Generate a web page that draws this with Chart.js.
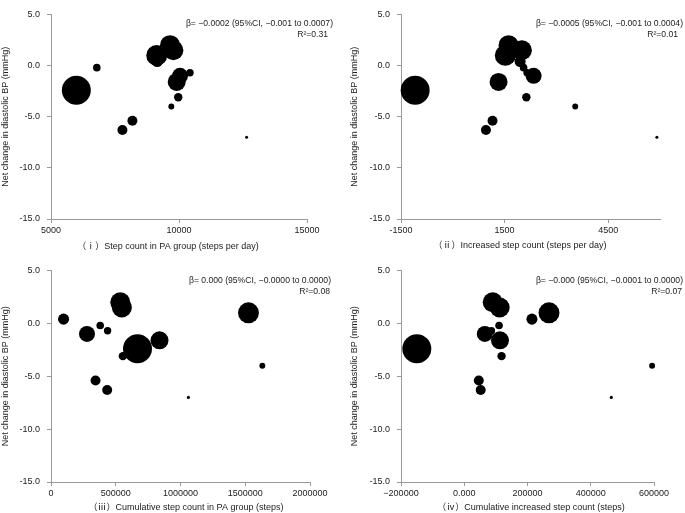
<!DOCTYPE html>
<html>
<head>
<meta charset="utf-8">
<script src="https://cdn.jsdelivr.net/npm/chart.js@4.4.0/dist/chart.umd.min.js"></script>
<style>
body { margin: 0; background: #fff; }
#wrap { position: relative; width: 685px; height: 513px; }
canvas { position: absolute; }
</style>
</head>
<body>
<div id="wrap">
  <canvas id="c1" width="342" height="256" style="left:0;top:0"></canvas>
  <canvas id="c2" width="343" height="256" style="left:342px;top:0"></canvas>
  <canvas id="c3" width="342" height="257" style="left:0;top:256px"></canvas>
  <canvas id="c4" width="343" height="257" style="left:342px;top:256px"></canvas>
</div>
<script>
// one entry per study, same order in every array
var dbpChange = [-2.4, -7.0, -4.0, -6.3, -5.4, -3.1, 1.0, 2.0, 1.5, -1.6, -1.0, 0.4, -0.2, -0.7];
// study weight (%), drawn as bubble area
var studyWeight = [26.2, 0.3, 1.1, 3.1, 3.1, 2.2, 13.7, 12.5, 12.5, 10.1, 8.0, 3.8, 1.8, 1.7];

var stepsPA = [5990, 12640, 9700, 7790, 8180, 9970, 9130, 9650, 9780, 9910, 10040, 9150, 6790, 10430];
var stepsIncrease = [-1090, 5910, 3545, 960, 1150, 2130, 1520, 1615, 2000, 1325, 2340, 1950, 2050, 2150];
var cumStepsPA = [668000, 1061000, 1632000, 434000, 344000, 555000, 1525000, 535000, 547000, 838000, 278000, 97000, 380000, 437000];
var cumStepsIncrease = [-150000, 465000, 594000, 52000, 46000, 118000, 268000, 90000, 112000, 113000, 65000, 214000, 110000, 86000];

var yTicks = [-15, -10, -5, 0, 5];
var xTicks1 = [5000, 10000, 15000];
var xTicks2 = [-1500, 1500, 4500];
var xTicks3 = [0, 500000, 1000000, 1500000, 2000000];
var xTicks4 = [-200000, 0, 200000, 400000, 600000];
var xLabels4 = ['\u2212200000', '0.000', '200000', '400000', '600000'];

var yTitle = 'Net change in diastolic BP (mmHg)';
var captions = [
    '\uFF08\u2170\uFF09Step count in PA group (steps per day)',
    '\uFF08\u2171\uFF09Increased step count (steps per day)',
    '\uFF08\u2172\uFF09Cumulative step count in PA group (steps)',
    '\uFF08\u2173\uFF09Cumulative increased step count (steps)'
];
var betaText = [
    '\u03B2= \u22120.0002 (95%CI, \u22120.001 to 0.0007)',
    '\u03B2= \u22120.0005 (95%CI, \u22120.001 to 0.0004)',
    '\u03B2= 0.000 (95%CI, \u22120.0000 to 0.0000)',
    '\u03B2= \u22120.000 (95%CI, \u22120.0001 to 0.0000)'
];
var r2Text = ['R\u00B2=0.31', 'R\u00B2=0.01', 'R\u00B2=0.08', 'R\u00B2=0.07'];

var FONT = '"Liberation Sans", Arial, "Noto Sans CJK SC", sans-serif';
var AXIS = '#9a9a9a';
var TEXT = '#222';

// annotation + caption text drawn at fixed spots of each panel
var panelText = {
    id: 'panelText',
    afterDraw: function (chart, args, o) {
        var c = chart.ctx;
        c.save();
        c.fillStyle = TEXT;
        c.textBaseline = 'middle';
        c.textAlign = 'right';
        c.font = '8.6px ' + FONT;
        c.fillText(o.beta, o.betaX, o.betaY);
        c.fillText(o.r2, o.r2X, o.r2Y);
        c.textAlign = 'center';
        c.font = '9px ' + FONT;
        c.fillText(o.caption, o.capX, o.capY);
        c.restore();
    }
};

function makePanel(id, xValues, cfg) {
    var ctx = document.getElementById(id).getContext('2d');
    var points = xValues.map(function (x, i) {
        return { x: x, y: dbpChange[i], r: Math.sqrt(studyWeight[i]) * 2.83 };
    });
    return new Chart(ctx, {
        type: 'bubble',
        plugins: [panelText],
        data: {
            datasets: [{
                data: points,
                backgroundColor: '#000',
                borderWidth: 0,
                hoverBorderWidth: 0,
                clip: false
            }]
        },
        options: {
            responsive: false,
            animation: false,
            events: [],
            layout: { padding: cfg.padding },
            plugins: {
                legend: { display: false },
                tooltip: { enabled: false },
                panelText: cfg.text
            },
            scales: {
                x: {
                    type: 'linear',
                    min: cfg.xMin,
                    max: cfg.xMax,
                    afterBuildTicks: function (s) { s.ticks = cfg.xTicks.map(function (v) { return { value: v }; }); },
                    afterFit: function (s) { s.height = cfg.xHeight; s.paddingLeft = 0; s.paddingRight = 0; },
                    grid: { drawOnChartArea: false, color: AXIS, tickLength: 4 },
                    border: { color: AXIS },
                    ticks: {
                        autoSkip: false,
                        maxRotation: 0,
                        padding: 2,
                        color: TEXT,
                        font: { family: FONT, size: 9 },
                        callback: function (v, i) { return cfg.xLabels ? cfg.xLabels[i] : v; }
                    }
                },
                y: {
                    min: -15,
                    max: 5,
                    afterBuildTicks: function (s) { s.ticks = yTicks.map(function (v) { return { value: v }; }); },
                    afterFit: function (s) { s.width = cfg.yWidth; s.paddingTop = 0; s.paddingBottom = 0; },
                    grid: { drawOnChartArea: false, color: AXIS, tickLength: 4 },
                    border: { color: AXIS },
                    ticks: {
                        padding: 7,
                        color: TEXT,
                        font: { family: FONT, size: 9 },
                        callback: function (v) { return v.toFixed(1); }
                    },
                    title: {
                        display: true,
                        text: yTitle,
                        color: TEXT,
                        font: { family: FONT, size: 9 },
                        padding: { top: cfg.yTitlePad, bottom: 0 }
                    }
                }
            }
        }
    });
}

makePanel('c1', stepsPA, {
    xMin: 5000, xMax: 15000, xTicks: xTicks1,
    padding: { left: 0, top: 4, right: 35, bottom: 0 },
    yWidth: 51, xHeight: 37, yTitlePad: 0,
    text: { beta: betaText[0], betaX: 333, betaY: 24, r2: r2Text[0], r2X: 328, r2Y: 35,
            caption: captions[0], capX: 168, capY: 246.5 }
});

makePanel('c2', stepsIncrease, {
    xMin: -1500, xMax: 6000, xTicks: xTicks2,
    padding: { left: 0, top: 4, right: 25, bottom: 0 },
    yWidth: 59, xHeight: 37, yTitlePad: 7.6,
    text: { beta: betaText[1], betaX: 341, betaY: 24, r2: r2Text[1], r2X: 336, r2Y: 35,
            caption: captions[1], capX: 178, capY: 246 }
});

makePanel('c3', cumStepsPA, {
    xMin: 0, xMax: 2000000, xTicks: xTicks3,
    padding: { left: 0, top: 10.7, right: 32, bottom: 0 },
    yWidth: 51, xHeight: 31, yTitlePad: 0,
    text: { beta: betaText[2], betaX: 331, betaY: 24.5, r2: r2Text[2], r2X: 330, r2Y: 35.5,
            caption: captions[2], capX: 186, capY: 252 }
});

makePanel('c4', cumStepsIncrease, {
    xMin: -200000, xMax: 600000, xTicks: xTicks4, xLabels: xLabels4,
    padding: { left: 0, top: 10.7, right: 31, bottom: 0 },
    yWidth: 59, xHeight: 31, yTitlePad: 7.6,
    text: { beta: betaText[3], betaX: 341, betaY: 24.5, r2: r2Text[3], r2X: 340, r2Y: 35.5,
            caption: captions[3], capX: 189, capY: 252 }
});
</script>
</body>
</html>
